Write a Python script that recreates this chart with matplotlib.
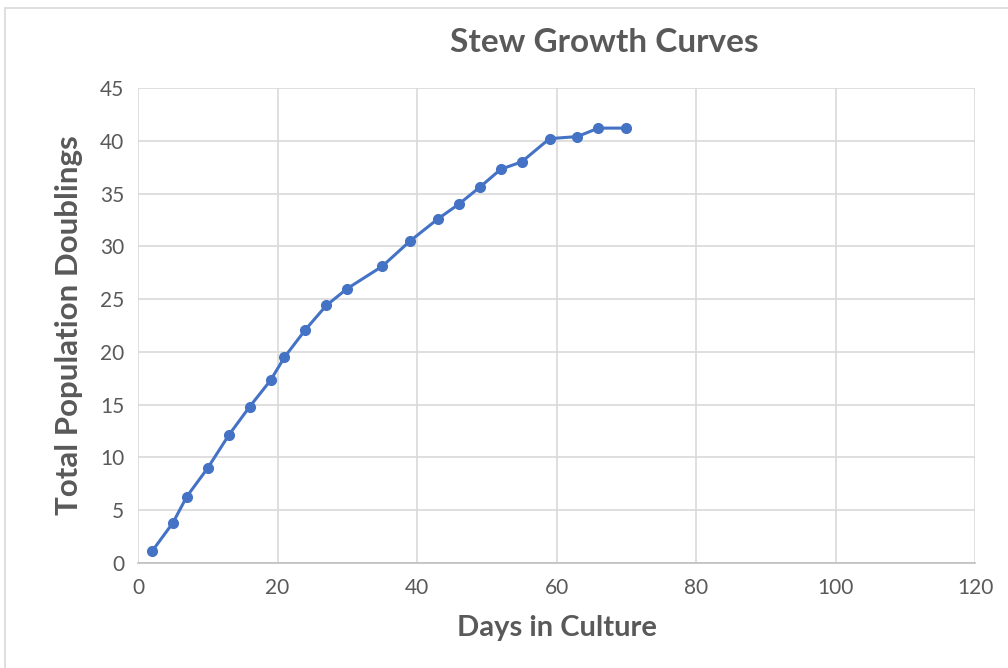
import matplotlib
matplotlib.use("Agg")
import matplotlib.pyplot as plt
from matplotlib.patches import Rectangle

days = [2, 5, 7, 10, 13, 16, 19, 21, 24, 27, 30, 35, 39, 43, 46, 49, 52, 55, 59, 63, 66, 70]
doublings = [1.1, 3.8, 6.3, 9.0, 12.1, 14.8, 17.3, 19.5, 22.1, 24.4, 26.0, 28.1, 30.5,
             32.6, 34.0, 35.6, 37.3, 38.0, 40.2, 40.4, 41.2, 41.2]

plt.rcParams['font.family'] = ['Lato', 'DejaVu Sans']
grey = '#595959'

fig = plt.figure(figsize=(10.08, 6.68), dpi=100)
fig.patches.append(Rectangle((5 / 1008, -0.01), 1.1, 1 - 8 / 668 + 0.01, transform=fig.transFigure,
                             fill=False, edgecolor='#d9d9d9', linewidth=1.2))
ax = fig.add_axes([138 / 1008, 1 - 563 / 668, (975 - 138) / 1008, (563 - 88) / 668])

ax.plot(days, doublings, color='#4472c4', linewidth=2.2, marker='o', markersize=7, zorder=3)

ax.set_xlim(0, 120)
ax.set_ylim(0, 45)
ax.set_xticks(range(0, 121, 20))
ax.set_yticks(range(0, 46, 5))
ax.grid(True, color='#d9d9d9', linewidth=1.2)
ax.set_axisbelow(True)
for s in ['top', 'right', 'left']:
    ax.spines[s].set_visible(False)
ax.spines['bottom'].set_color('#bfbfbf')
ax.spines['bottom'].set_linewidth(1.2)
ax.tick_params(length=0, labelsize=15, labelcolor=grey, pad=11)
ax.tick_params(axis='y', pad=10)

fig.text(604 / 1008, 1 - 42 / 668, 'Stew Growth Curves', ha='center', va='center',
         fontsize=24, fontweight='bold', color=grey)
ax.set_xlabel('Days in Culture', fontsize=21, fontweight='bold', color=grey, labelpad=12)
ax.set_ylabel('Total Population Doublings', fontsize=22.5, fontweight='bold', color=grey, labelpad=12)

fig.savefig('out.png', dpi=100)
